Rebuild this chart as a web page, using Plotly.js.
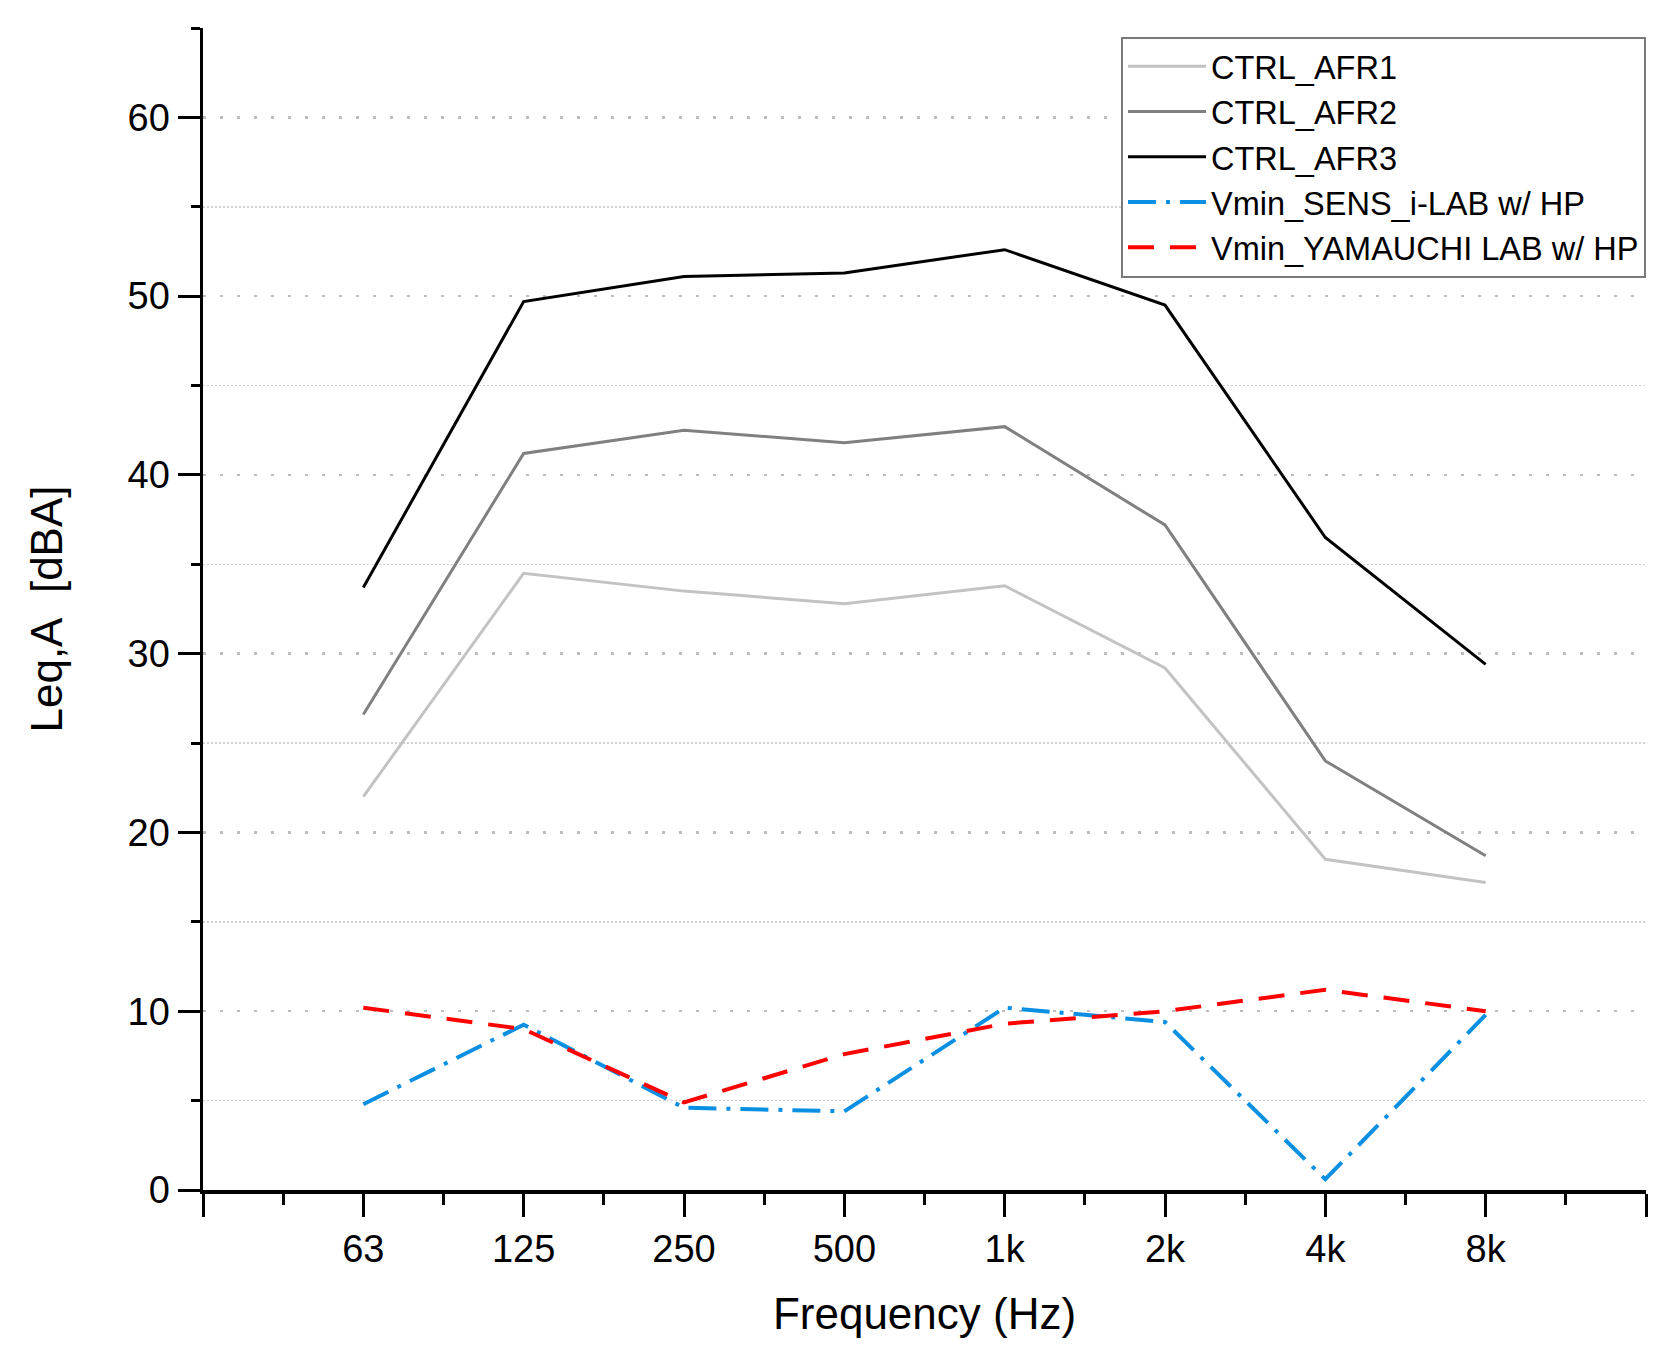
<!DOCTYPE html>
<html>
<head>
<meta charset="utf-8">
<script src="https://cdn.plot.ly/plotly-3.0.1.min.js"></script>
<style>html,body{margin:0;padding:0;background:#fff;}#chart{width:1673px;height:1365px;}</style>
</head>
<body>
<div id="chart"></div>
<script>
const categories = ["63", "125", "250", "500", "1k", "2k", "4k", "8k"];
const ctrlAfr1 = [22.0, 34.5, 33.5, 32.8, 33.8, 29.2, 18.5, 17.2];
const ctrlAfr2 = [26.6, 41.2, 42.5, 41.8, 42.7, 37.2, 24.0, 18.7];
const ctrlAfr3 = [33.7, 49.7, 51.1, 51.3, 52.6, 49.5, 36.5, 29.4];
const vminSens = [4.8, 9.25, 4.6, 4.4, 10.2, 9.4, 0.6, 9.8];
const vminYamauchi = [10.2, 9.0, 4.9, 7.6, 9.3, 10.0, 11.2, 10.0];
const seriesNames = ["CTRL_AFR1", "CTRL_AFR2", "CTRL_AFR3", "Vmin_SENS_i-LAB w/ HP", "Vmin_YAMAUCHI LAB w/ HP"];

const xIdx = categories.map((c, i) => i);
const tickVals = [-1].concat(xIdx, [categories.length]);
const tickText = [""].concat(categories, [""]);

const FONT = "Liberation Sans, Arial, sans-serif";

const traces = [
  {y: ctrlAfr1, name: seriesNames[0], line: {color: "#c3c3c3", width: 3}},
  {y: ctrlAfr2, name: seriesNames[1], line: {color: "#808080", width: 3}},
  {y: ctrlAfr3, name: seriesNames[2], line: {color: "#000000", width: 3}},
  {y: vminSens, name: seriesNames[3], line: {color: "#0a8fe3", width: 4, dash: "28px,10px,4px,10px"}},
  {y: vminYamauchi, name: seriesNames[4], line: {color: "#ff0000", width: 4, dash: "26px,16px"}}
].map(t => Object.assign({x: xIdx, type: "scatter", mode: "lines"}, t));

const layout = {
  width: 1673, height: 1365,
  paper_bgcolor: "#fff", plot_bgcolor: "#fff",
  margin: {l: 203, r: 27, t: 28, b: 175},
  font: {family: FONT, color: "#000"},
  showlegend: true,
  legend: {
    x: 1, xanchor: "right", y: 0.9925, yanchor: "top",
    bgcolor: "#fff", bordercolor: "#7a7a7a", borderwidth: 2,
    font: {family: FONT, size: 32.5, color: "#000"},
    itemwidth: 78, tracegroupgap: 0
  },
  xaxis: {
    range: [-1, categories.length],
    tickmode: "array", tickvals: tickVals, ticktext: tickText,
    ticks: "outside", ticklen: 23, tickwidth: 3, tickcolor: "#000",
    showline: true, linecolor: "#000", linewidth: 3.5,
    showgrid: false, zeroline: false,
    tickfont: {family: FONT, size: 38, color: "#000"},
    ticklabelstandoff: 0,
    minor: {tickmode: "linear", tick0: -1, dtick: 0.5, ticks: "outside", ticklen: 11, tickwidth: 3, tickcolor: "#000", showgrid: false},
    title: {text: "Frequency (Hz)", font: {family: FONT, size: 44, color: "#000"}, standoff: 30}
  },
  yaxis: {
    range: [0, 65],
    tickmode: "linear", tick0: 0, dtick: 10,
    ticks: "outside", ticklen: 22, tickwidth: 3, tickcolor: "#000",
    showline: true, linecolor: "#000", linewidth: 3.5,
    showgrid: true, gridcolor: "#bdbdbd", gridwidth: 2.5, griddash: "3px,14px",
    zeroline: false,
    tickfont: {family: FONT, size: 38, color: "#000"},
    ticklabelstandoff: 0,
    minor: {tickmode: "linear", tick0: 5, dtick: 10, ticks: "outside", ticklen: 9, tickwidth: 3, tickcolor: "#000",
            showgrid: true, gridcolor: "#d2d2d2", gridwidth: 1.5, griddash: "1.5px,2.5px"},
    title: {text: "Leq,A\u00a0\u00a0[dBA]", font: {family: FONT, size: 44, color: "#000"}, standoff: 52}
  }
};

Plotly.newPlot("chart", traces, layout, {displayModeBar: false, staticPlot: true});
</script>
</body>
</html>
